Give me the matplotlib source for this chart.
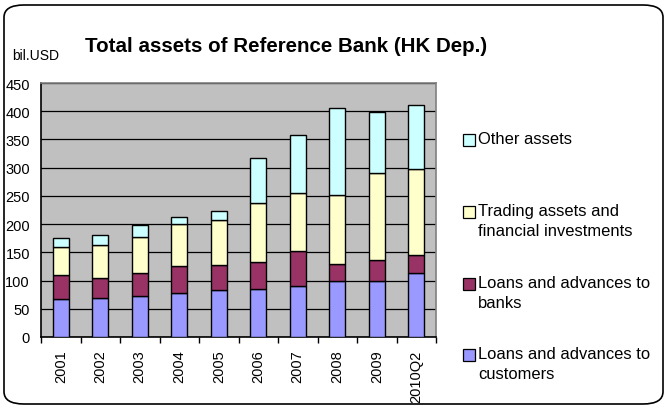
import matplotlib
matplotlib.use("Agg")
import matplotlib.pyplot as plt
import numpy as np
from matplotlib.patches import FancyBboxPatch, Rectangle

plt.rcParams['font.family'] = ['Liberation Sans', 'DejaVu Sans']

years = ["2001", "2002", "2003", "2004", "2005", "2006", "2007", "2008", "2009", "2010Q2"]
loans_customers = [67, 69, 73, 78, 83, 85, 90, 99, 99, 113]
loans_banks = [43, 35, 40, 47, 44, 48, 62, 30, 37, 33]
trading_assets = [49, 59, 65, 75, 80, 104, 104, 122, 155, 152]
other_assets = [16, 17, 21, 12, 17, 81, 101, 155, 108, 113]

series = [
    ("Loans and advances to\ncustomers", loans_customers, "#9999FF"),
    ("Loans and advances to\nbanks", loans_banks, "#993366"),
    ("Trading assets and\nfinancial investments", trading_assets, "#FFFFCC"),
    ("Other assets", other_assets, "#CCFFFF"),
]

W, H = 667, 410
fig = plt.figure(figsize=(W / 100, H / 100), dpi=100)

# rounded outer frame
frame = FancyBboxPatch((4 / W, 5 / H), 659 / W, 399 / H,
                       boxstyle="round,pad=0,rounding_size=0.03",
                       transform=fig.transFigure, facecolor="none",
                       edgecolor="black", linewidth=1.2, zorder=-10)
fig.patches.append(frame)

ax = fig.add_axes([41 / W, (H - 338) / H, (436 - 41) / W, (338 - 84) / H])
ax.set_facecolor("#C0C0C0")
x = np.arange(len(years))
bottom = np.zeros(len(years))
for label, vals, color in series:
    ax.bar(x, vals, width=0.4, bottom=bottom, color=color,
           edgecolor="black", linewidth=1.0, zorder=3)
    bottom += np.array(vals)

ax.set_ylim(0, 450)
ax.set_xlim(-0.5, len(years) - 0.5)
ax.set_yticks(np.arange(0, 451, 50))
ax.yaxis.grid(True, color="black", linewidth=0.9, zorder=1)
ax.set_axisbelow(True)

ax.set_xticks(x)
ax.set_xticklabels(years, rotation=90, fontsize=10.5, va="top")
ax.tick_params(axis="x", which="major", length=0, pad=9)
ax.set_xticks(np.arange(-0.5, len(years)), minor=True)
ax.tick_params(axis="x", which="minor", length=4, direction="out", width=1)
ax.tick_params(axis="y", length=0, labelsize=10.5, pad=8)

for side in ["top", "right"]:
    ax.spines[side].set_color("#808080")
    ax.spines[side].set_linewidth(1.2)
for side in ["left", "bottom"]:
    ax.spines[side].set_color("black")
    ax.spines[side].set_linewidth(1.2)

fig.text(85 / W, 1 - 47 / H, "Total assets of Reference Bank (HK Dep.)",
         fontsize=14.8, fontweight="bold", va="center", ha="left")
fig.text(12 / W, 1 - 56 / H, "bil.USD", fontsize=10, va="center", ha="left")

# legend drawn as squares with labels, first line aligned to square
legend_rows = [(series[3], 141), (series[2], 213), (series[1], 285), (series[0], 356)]
for (label, _, color), yc in legend_rows:
    fig.patches.append(Rectangle((463 / W, 1 - (yc + 6) / H), 12 / W, 12 / H,
                                 transform=fig.transFigure, facecolor=color,
                                 edgecolor="black", linewidth=0.9))
    fig.text(478 / W, 1 - (yc - 9) / H, label, fontsize=11.9, va="top",
             ha="left", linespacing=1.4)

fig.savefig("out.png", dpi=100)
